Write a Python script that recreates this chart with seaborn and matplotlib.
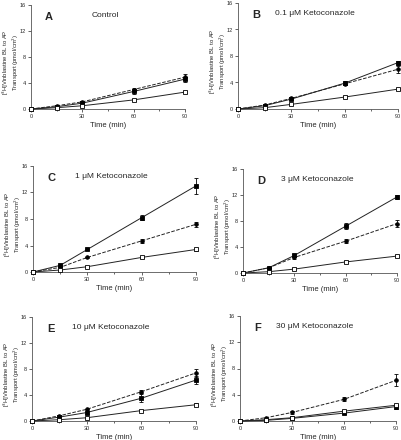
import matplotlib.pyplot as plt
import numpy as np
import pandas as pd
import seaborn as sns

time = [0, 15, 30, 60, 90]
panels = ["A", "B", "C", "D", "E", "F"]
titles = ["Control", "0.1 \u03bcM Ketoconazole", "1 \u03bcM Ketoconazole",
          "3 \u03bcM Ketoconazole", "10 \u03bcM Ketoconazole", "30 \u03bcM Ketoconazole"]

# filled square, solid line
sq_mean = [
    [0, 0.35, 0.9, 2.7, 4.6],
    [0, 0.5, 1.5, 3.9, 7.0],
    [0, 1.0, 3.4, 8.2, 13.0],
    [0, 0.8, 2.7, 7.2, 11.7],
    [0, 0.6, 1.3, 3.5, 6.3],
    [0, 0.1, 0.4, 1.2, 2.2],
]
sq_err = [
    [0, 0.1, 0.3, 0.4, 0.4],
    [0, 0.1, 0.2, 0.3, 0.3],
    [0, 0.1, 0.1, 0.4, 1.2],
    [0, 0.1, 0.2, 0.5, 0.3],
    [0, 0.1, 0.2, 0.6, 0.6],
    [0, 0.05, 0.1, 0.2, 0.3],
]
# filled circle, dashed line
ci_mean = [
    [0, 0.5, 1.1, 3.0, 4.9],
    [0, 0.6, 1.6, 3.8, 6.0],
    [0, 0.7, 2.2, 4.7, 7.2],
    [0, 0.8, 2.4, 4.9, 7.6],
    [0, 0.8, 1.8, 4.5, 7.4],
    [0, 0.5, 1.3, 3.3, 6.2],
]
ci_err = [
    [0, 0.1, 0.2, 0.3, 0.5],
    [0, 0.1, 0.2, 0.2, 0.5],
    [0, 0.1, 0.1, 0.3, 0.4],
    [0, 0.1, 0.2, 0.3, 0.5],
    [0, 0.1, 0.1, 0.2, 0.6],
    [0, 0.1, 0.3, 0.3, 0.9],
]
# open square, solid line
op_mean = [
    [0, 0.2, 0.5, 1.4, 2.6],
    [0, 0.2, 0.7, 1.8, 3.0],
    [0, 0.3, 0.8, 2.2, 3.4],
    [0, 0.2, 0.6, 1.7, 2.6],
    [0, 0.2, 0.5, 1.6, 2.5],
    [0, 0.2, 0.5, 1.5, 2.4],
]
op_err = [
    [0, 0.05, 0.1, 0.2, 0.2],
    [0, 0.05, 0.1, 0.1, 0.2],
    [0, 0.05, 0.1, 0.1, 0.2],
    [0, 0.05, 0.1, 0.1, 0.2],
    [0, 0.05, 0.1, 0.1, 0.2],
    [0, 0.05, 0.1, 0.2, 0.2],
]

sns.set_style("ticks")
plt.rcParams["font.family"] = ["Liberation Sans", "DejaVu Sans"]

W, H = 402, 440
fig = plt.figure(figsize=(W / 100, H / 100), dpi=100)

# pixel boxes: left, right, top, bottom
boxes = [(31, 185, 5, 109), (238, 398, 3, 109),
         (33, 196, 166, 272), (243, 397, 169, 273),
         (32, 196, 317, 421), (240, 396, 316, 421)]

series = [
    ("sq", sq_mean, sq_err, "s", "black", "-"),
    ("ci", ci_mean, ci_err, "o", "black", "--"),
    ("op", op_mean, op_err, "s", "white", "-"),
]

for i, (l, r, t, b) in enumerate(boxes):
    ax = fig.add_axes([l / W, 1 - b / H, (r - l) / W, (b - t) / H])
    for name, means, errs, mk, fc, ls in series:
        df = pd.DataFrame({"time": time, "value": means[i], "err": errs[i]})
        ax.errorbar(df["time"], df["value"], yerr=df["err"], fmt="none",
                    ecolor="black", elinewidth=0.6, capsize=1.5,
                    capthick=0.6, clip_on=False, zorder=3)
        sns.lineplot(data=df, x="time", y="value", ax=ax, color="#222222",
                     linestyle=ls, linewidth=0.7, marker=mk, markersize=2.6,
                     markerfacecolor=fc, markeredgecolor="black",
                     markeredgewidth=0.6, clip_on=False, zorder=4)
    ax.set_xlim(0, 90)
    ax.set_ylim(0, 16)
    ax.set_xticks([0, 30, 60, 90])
    ax.set_xticks([15, 45, 75], minor=True)
    ax.set_yticks([0, 4, 8, 12, 16])
    ax.tick_params(labelsize=4, length=2, width=0.5, pad=1.5)
    ax.tick_params(which="minor", length=1.2, width=0.5)
    for s in ["left", "bottom"]:
        ax.spines[s].set_linewidth(0.6)
        ax.spines[s].set_color("#555555")
    sns.despine(ax=ax)
    ax.set_xlabel("Time (min)", fontsize=5.5, labelpad=2)
    ax.set_ylabel("[$^{3}$H]Vinblastine BL to AP\nTransport (pmol/cm$^{2}$)",
                  fontsize=4.2, linespacing=1.0, va="center")
    ax.yaxis.set_label_coords(-20 / (r - l), 0.45)
    ax.text(0.09, 0.93, panels[i], transform=ax.transAxes, fontsize=8,
            fontweight="bold", va="top")
    ax.text(0.48, 0.93, titles[i], transform=ax.transAxes, fontsize=6,
            ha="center", va="top")

fig.savefig("out.png", dpi=100)
